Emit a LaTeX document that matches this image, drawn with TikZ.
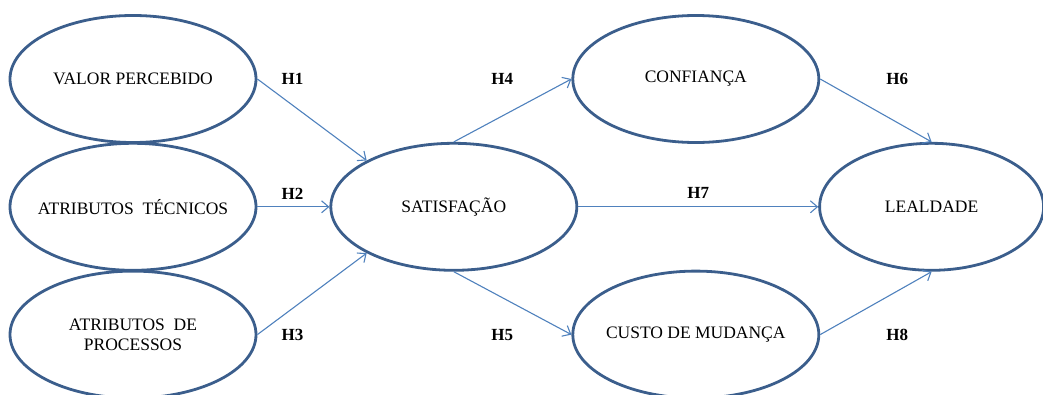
\documentclass[tikz,border=0pt]{standalone}
\usepackage{fontspec}
\setmainfont{Liberation Serif}
\usetikzlibrary{%
	positioning,
	arrows.meta,
	shapes.geometric
}
\definecolor{ellblue}{HTML}{3B5E8C}
\definecolor{arrblue}{HTML}{4F81BD}

\begin{document}
\begin{tikzpicture}[
		SConst/.style={draw=ellblue,line width=2.8pt,shape=ellipse,minimum width=246pt,minimum height=127pt,inner ysep=0pt,inner xsep=-25pt,font=\fontsize{17.5}{20}\selectfont,align=center},
		hyp/.style={inner sep=0pt,font=\fontsize{17}{20}\selectfont\bfseries},
		link/.style={draw=arrblue,line width=1.1pt,-{Straight Barb[length=7pt,width=12pt]}}
	]
	
	\useasboundingbox (0,0) rectangle (1043pt,-394pt);
	
		%antecedentes
		\node(valor-per) [SConst] at (133pt,-79pt) {VALOR PERCEBIDO};
		\node(atr-tec) [SConst, below=-2pt of valor-per] {ATRIBUTOS\ \ TÉCNICOS};
		\node(atr-proc) [SConst, below=-2pt of atr-tec] {ATRIBUTOS\ \ DE\\PROCESSOS};
		
		%satisfacao
		\node(satisf) [SConst, right=72pt of atr-tec] {SATISFAÇÃO};
		
		%consequentes
		\node(confianca) [SConst, right=314pt of valor-per] {CONFIANÇA};
		\node(custo-mud) [SConst, right=314pt of atr-proc] {CUSTO DE MUDANÇA};
		\node(lealdade) [SConst, minimum width=224pt, right=240pt of satisf] {LEALDADE};
		
		%hipoteses
		\node(h1) [hyp, right=24pt of valor-per] {H1};
		\node(h2) [hyp, above right=7pt and 24pt of atr-tec.east] {H2};
		\node(h3) [hyp, right=24pt of atr-proc] {H3};
		\node(h4) [hyp, left=58pt of confianca] {H4};
		\node(h5) [hyp, left=58pt of custo-mud] {H5};
		\node(h6) [hyp, right=66pt of confianca] {H6};
		\node(h8) [hyp, right=66pt of custo-mud] {H8};
		
		\draw [link] (valor-per.east) to (satisf.152);
		\draw [link] (atr-tec.east) to (satisf.west);
		\draw [link] (atr-proc.east) to (satisf.208);
		\draw [link] (satisf.north) to (confianca.west);
		\draw [link] (satisf.south) to (custo-mud.west);
		\draw [link] (satisf.east) to node(h7) [hyp, above=8pt] {H7} (lealdade.west);
		\draw [link] (confianca.east) to (lealdade.north);
		\draw [link] (custo-mud.east) to (lealdade.south);
		
	\end{tikzpicture}
\end{document}
